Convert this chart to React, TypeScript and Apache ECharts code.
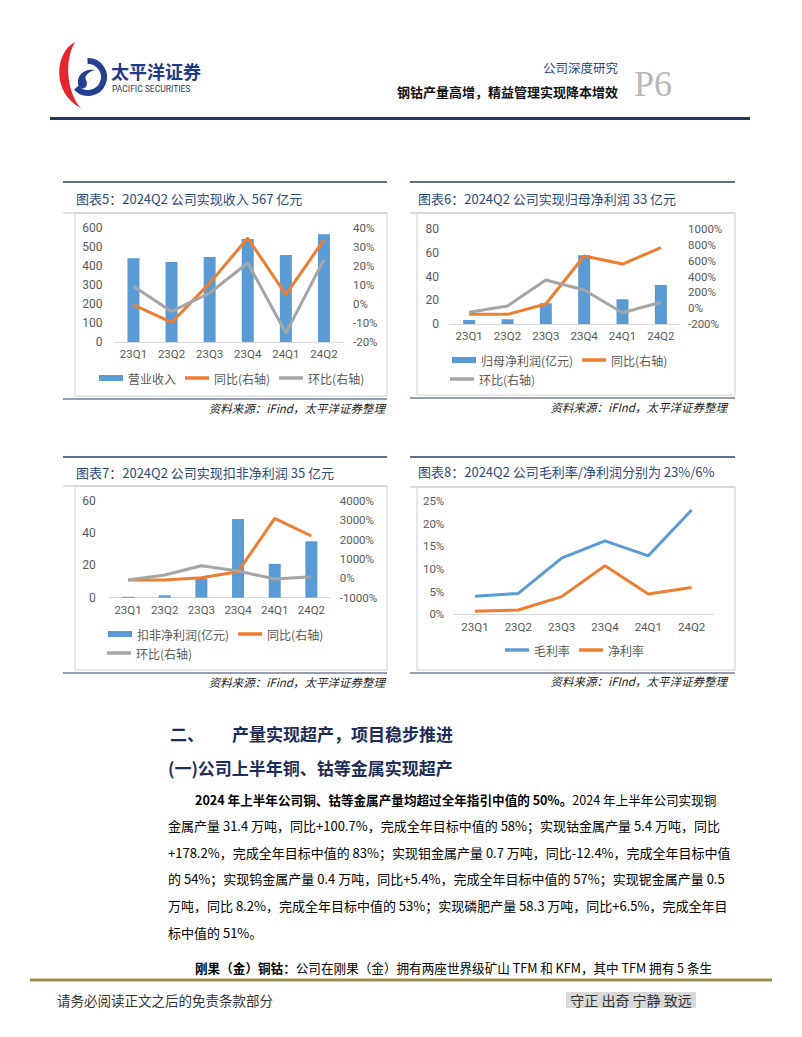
import { useEffect, useRef } from 'react';
import * as echarts from 'echarts';

// ---------- data ----------
const quarters = ['23Q1', '23Q2', '23Q3', '23Q4', '24Q1', '24Q2'];

const revenue = [441, 421, 447, 542, 458, 567];
const revenueYoY = [-0.5, -9.7, 11, 34.7, 4.9, 33.8];
const revenueQoQ = [9.3, -3.9, 5.8, 21.6, -15.3, 23.3];

const netProfit = [3.4, 4.0, 17.5, 58, 20.9, 33];
const netProfitYoY = [-77, -78, 53, 661, 560, 767];
const netProfitQoQ = [-52, 28, 357, 230, -57, 75];

const deductedProfit = [0.6, 1.5, 12, 48.8, 21, 35];
const deductedYoY = [-86, -86, 34, 345, 3100, 2190];
const deductedQoQ = [-86, 172, 655, 380, -34, 86];

const grossMargin = [4.0, 4.6, 12.4, 16.2, 12.9, 23.0];
const netMargin = [0.7, 0.95, 3.9, 10.7, 4.5, 5.9];

const bodyLines = [
  '金属产量 31.4 万吨，同比+100.7%，完成全年目标中值的 58%；实现钴金属产量 5.4 万吨，同比',
  '+178.2%，完成全年目标中值的 83%；实现钼金属产量 0.7 万吨，同比-12.4%，完成全年目标中值',
  '的 54%；实现钨金属产量 0.4 万吨，同比+5.4%，完成全年目标中值的 57%；实现铌金属产量 0.5',
  '万吨，同比 8.2%，完成全年目标中值的 53%；实现磷肥产量 58.3 万吨，同比+6.5%，完成全年目',
  '标中值的 51%。',
];

// ---------- logo shapes ----------
echarts.graphic.registerShape(
  'logoRed',
  echarts.graphic.extendPath('M75 42 C 55 52, 51 93, 81 108 C 68 95, 63 62, 75 42 Z', {})
);
echarts.graphic.registerShape(
  'logoSwirl',
  echarts.graphic.extendPath('M79 87 C 75 77, 83 68, 95 70 C 88 72, 84 76, 86 80 C 89 86, 84 91, 79 87 Z', {})
);

const CJK = '"Noto Sans CJK SC", "Noto Sans", sans-serif';
const NUM = 'Roboto, "Noto Sans CJK SC", sans-serif';
const BLUE = '#5B9BD5';
const ORANGE = '#ED7D31';
const GRAY = '#A5A5A5';
const LABEL = '#595959';
const LINE_ICON = 'path://M0,0H24V3.5H0Z';
const BODY = 13;
const BODY_RICH = 12.6;

function T(x: number, y: number, text: string, size: number, o: any = {}) {
  return {
    type: 'text',
    x,
    y,
    silent: true,
    z: 10,
    style: {
      text,
      fontSize: size,
      fontFamily: o.family || CJK,
      fontWeight: o.weight || 'normal',
      fontStyle: o.fstyle || 'normal',
      fill: o.color || '#000',
      textAlign: o.align || 'left',
      align: o.align || 'left',
      textVerticalAlign: 'middle',
      verticalAlign: 'middle',
      rich: o.rich,
    },
  };
}
function L(x1: number, y1: number, x2: number, y2: number, color: string, w: number) {
  return { type: 'line', silent: true, shape: { x1, y1, x2, y2 }, style: { stroke: color, lineWidth: w } };
}
function R(x: number, y: number, w: number, h: number, stroke: string | null, fill: string) {
  return {
    type: 'rect',
    silent: true,
    shape: { x, y, width: w, height: h },
    style: { stroke: stroke || 'transparent', lineWidth: 1, fill },
  };
}

function frame(
  tx1: number, tx2: number, bx1: number, topY: number, titleY: number, sepY: number,
  boxBottom: number, navyY: number, srcY: number, title: string, src: string, srcRight: number
) {
  return [
    L(tx1, topY, tx2, topY, '#2F3E6B', 1.5),
    T(bx1 + 1, titleY, title, 13, { color: '#2B4A7C' }),
    L(tx1, sepY, tx2, sepY, '#BFBFBF', 1),
    R(bx1, sepY, tx2 - bx1, boxBottom - sepY, '#D0D0D0', 'transparent'),
    L(tx1, navyY, tx2, navyY, '#2F3E6B', 1.2),
    T(srcRight, srcY, src, 11.5, { align: 'right', fstyle: 'italic', color: '#222' }),
  ];
}

function catAxis(gridIndex: number, margin: number) {
  return {
    type: 'category',
    gridIndex,
    data: quarters,
    boundaryGap: true,
    axisLine: { show: true, onZero: false, lineStyle: { color: '#D9D9D9', width: 1 } },
    axisTick: { show: false },
    splitLine: { show: false },
    axisLabel: { color: LABEL, fontSize: 11.5, fontFamily: NUM, margin },
  };
}
function valAxis(gridIndex: number, position: string, min: number, max: number, interval: number, margin: number, pct: boolean) {
  return {
    type: 'value',
    gridIndex,
    position,
    min,
    max,
    interval,
    axisLine: { show: false },
    axisTick: { show: false },
    splitLine: { show: false },
    axisLabel: {
      color: LABEL,
      fontSize: position === 'left' && !pct ? 12 : 11.5,
      fontFamily: NUM,
      margin,
      formatter: (v: number) => (pct ? String(v) + '%' : String(v)),
    },
  };
}
function lineSeries(name: string, xi: number, yi: number, data: number[], color: string) {
  return {
    type: 'line',
    name,
    xAxisIndex: xi,
    yAxisIndex: yi,
    data,
    symbol: 'none',
    lineStyle: { width: 3, color },
    itemStyle: { color },
  };
}
function barSeries(name: string, xi: number, yi: number, data: number[]) {
  return { type: 'bar', name, xAxisIndex: xi, yAxisIndex: yi, data, barWidth: 12, itemStyle: { color: BLUE } };
}
function barItem(name: string) {
  return { name, icon: 'rect', itemStyle: { color: BLUE } };
}
function lineItem(name: string, color: string) {
  return { name, icon: LINE_ICON, itemStyle: { color } };
}
function legend(left: number, cy: number, data: any[]) {
  return {
    left,
    top: cy - 7,
    padding: 0,
    itemWidth: 24,
    itemHeight: 6,
    itemGap: 9,
    selectedMode: false,
    data,
    textStyle: { fontSize: 12, color: LABEL, fontFamily: CJK },
  };
}

const bodyRich = {
  b: { fontWeight: 'bold', fontSize: BODY_RICH, fontFamily: CJK, color: '#000' },
  n: { fontWeight: 'normal', fontSize: BODY_RICH, fontFamily: CJK, color: '#000' },
};

const graphics: any[] = [
  // logo
  { type: 'logoRed', x: 0, y: 0, silent: true, style: { fill: '#E5262E' } },
  {
    type: 'arc',
    silent: true,
    shape: { cx: 88, cy: 77, r: 16, startAngle: -1.6, endAngle: 2.4, clockwise: true },
    style: { stroke: '#24408E', lineWidth: 6, fill: 'transparent' },
  },
  { type: 'logoSwirl', x: 0, y: 0, silent: true, style: { fill: '#24408E' } },
  T(111, 70.5, '太平洋证券', 18, { weight: 'bold', color: '#1E3A8A' }),
  T(112, 89, 'PACIFIC SECURITIES', 8.5, { family: 'Roboto, sans-serif', color: '#1E3A6A' }),
  T(618, 67, '公司深度研究', 12.5, { align: 'right', color: '#24408E' }),
  T(618, 91, '钢钴产量高增，精益管理实现降本增效', 13, { align: 'right', weight: 'bold', color: '#111' }),
  T(634, 84, 'P6', 36, { family: '"Liberation Serif", "DejaVu Serif", serif', color: '#B8B8B8' }),
  L(50, 118.5, 750, 118.5, '#1F3864', 3),

  // chart frames
  ...frame(63, 387, 75, 182, 198, 213, 396, 399, 408, '图表5：2024Q2 公司实现收入 567 亿元', '资料来源：iFind，太平洋证券整理', 385),
  ...frame(410, 735, 417, 182, 198, 213, 395, 398, 407, '图表6：2024Q2 公司实现归母净利润 33 亿元', '资料来源：iFInd，太平洋证券整理', 727),
  ...frame(63, 387, 75, 457, 472, 486, 670, 673, 682, '图表7：2024Q2 公司实现扣非净利润 35 亿元', '资料来源：iFind，太平洋证券整理', 385),
  ...frame(410, 735, 417, 457, 471, 487, 670, 673, 681, '图表8：2024Q2 公司毛利率/净利润分别为 23%/6%', '资料来源：iFInd，太平洋证券整理', 727),

  // body
  T(170, 733, '二、', 17, { weight: 'bold', color: '#1C2C5B' }),
  T(232, 733, '产量实现超产，项目稳步推进', 17, { weight: 'bold', color: '#1C2C5B' }),
  T(168, 767, '(一)公司上半年铜、钴等金属实现超产', 17, { weight: 'bold', color: '#1C2C5B' }),
  T(195, 799, '{b|2024 年上半年公司铜、钴等金属产量均超过全年指引中值的 50%。}{n|2024 年上半年公司实现铜}', BODY_RICH, { rich: bodyRich }),
  ...bodyLines.map((s, i) => T(168, 825.5 + i * 26.7, s, BODY)),
  T(195, 967, '{b|刚果（金）铜钴：}{n|公司在刚果（金）拥有两座世界级矿山 TFM 和 KFM，其中 TFM 拥有 5 条生}', BODY_RICH, { rich: bodyRich }),

  // footer
  L(30, 980, 772, 980, '#9C8F55', 3),
  T(57, 1000, '请务必阅读正文之后的免责条款部分', 13.5, { color: '#333' }),
  R(566, 992, 130, 16, null, '#D9D9D9'),
  T(631, 1000, '守正 出奇 宁静 致远', 14, { align: 'center', color: '#333' }),
];

const option: any = {
  animation: false,
  backgroundColor: '#fff',
  grid: [
    { left: 114.4, top: 228, width: 228.6, height: 114, containLabel: false },
    { left: 450, top: 229.3, width: 230, height: 94.7, containLabel: false },
    { left: 109.7, top: 501, width: 220, height: 96.7, containLabel: false },
    { left: 453.3, top: 501, width: 260, height: 113.3, containLabel: false },
  ],
  xAxis: [catAxis(0, 6), catAxis(1, 6), catAxis(2, 7), catAxis(3, 7)],
  yAxis: [
    valAxis(0, 'left', 0, 600, 100, 12, false),
    valAxis(0, 'right', -20, 40, 10, 10, true),
    valAxis(1, 'left', 0, 80, 20, 11, false),
    valAxis(1, 'right', -200, 1000, 200, 8, true),
    valAxis(2, 'left', 0, 60, 20, 14, false),
    valAxis(2, 'right', -1000, 4000, 1000, 10, true),
    valAxis(3, 'left', 0, 25, 5, 9, true),
  ],
  legend: [
    legend(99, 379, [barItem('营业收入'), lineItem('同比(右轴)', ORANGE), lineItem('环比(右轴)', GRAY)]),
    legend(452, 361, [barItem('归母净利润(亿元)'), lineItem('同比(右轴)', ORANGE)]),
    legend(450, 380, [lineItem('环比(右轴)', GRAY)]),
    legend(108, 635, [barItem('扣非净利润(亿元)'), lineItem('同比(右轴)', ORANGE)]),
    legend(107, 654, [lineItem('环比(右轴)', GRAY)]),
    legend(505, 651, [lineItem('毛利率', BLUE), lineItem('净利率', ORANGE)]),
  ],
  series: [
    barSeries('营业收入', 0, 0, revenue),
    lineSeries('同比(右轴)', 0, 1, revenueYoY, ORANGE),
    lineSeries('环比(右轴)', 0, 1, revenueQoQ, GRAY),
    barSeries('归母净利润(亿元)', 1, 2, netProfit),
    lineSeries('同比(右轴)', 1, 3, netProfitYoY, ORANGE),
    lineSeries('环比(右轴)', 1, 3, netProfitQoQ, GRAY),
    barSeries('扣非净利润(亿元)', 2, 4, deductedProfit),
    lineSeries('同比(右轴)', 2, 5, deductedYoY, ORANGE),
    lineSeries('环比(右轴)', 2, 5, deductedQoQ, GRAY),
    lineSeries('毛利率', 3, 6, grossMargin, BLUE),
    lineSeries('净利率', 3, 6, netMargin, ORANGE),
  ],
  graphic: { elements: graphics },
};

export default function App() {
  const ref = useRef<HTMLDivElement>(null);
  useEffect(() => {
    document.body.style.margin = '0';
    const chart = echarts.init(ref.current!, null, { renderer: 'svg', width: 802, height: 1037 });
    chart.setOption(option);
    return () => chart.dispose();
  }, []);
  return (
    <div
      ref={ref}
      style={{ position: 'absolute', left: 0, top: 0, width: 802, height: 1037, background: '#fff' }}
    />
  );
}
